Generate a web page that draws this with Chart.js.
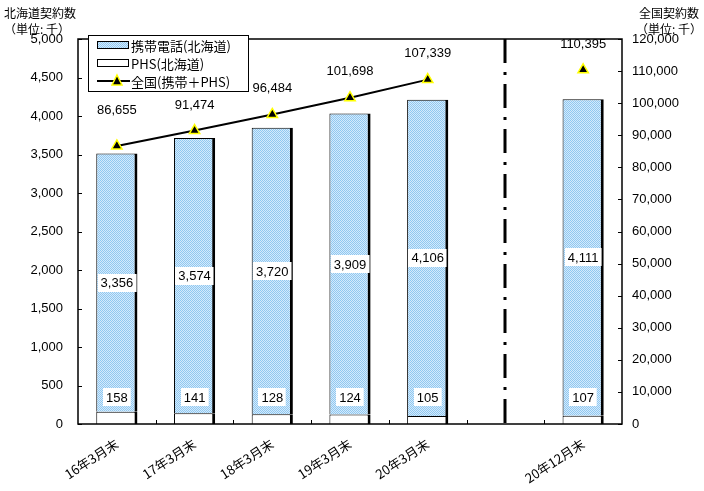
<!DOCTYPE html>
<html>
<head>
<meta charset="utf-8">
<script src="https://cdn.jsdelivr.net/npm/chart.js@4/dist/chart.umd.min.js"></script>
<style>
html,body{margin:0;padding:0;background:#fff;}
#wrap{width:704px;height:491px;position:relative;}
</style>
</head>
<body>
<div id="wrap"><canvas id="c" width="704" height="491"></canvas></div>
<script>
const categories = ['16年3月末','17年3月末','18年3月末','19年3月末','20年3月末','','20年12月末'];
const phsValues = [158,141,128,124,105,null,107];
const mobileValues = [3356,3574,3720,3909,4106,null,4111];
const nationalValues = [86655,91474,96484,101698,107339,null,110395];
const leftTicks = {min:0,max:5000,step:500};
const rightTicks = {min:0,max:120000,step:10000};
const seriesNames = ['携帯電話(北海道)','PHS(北海道)','全国(携帯＋PHS)'];
const leftTitle = ['北海道契約数','（単位: 千）'];
const rightTitle = ['全国契約数','（単位: 千）'];

const FONT = "'Liberation Sans','Noto Sans CJK JP',sans-serif";
const CJK = "'Noto Sans CJK JP','Liberation Sans',sans-serif";
const lineLabelOffsets = [36,25,26,26,26,0,25];

function makePattern(){
  const c=document.createElement('canvas'); c.width=2;c.height=2;
  const x=c.getContext('2d');
  x.fillStyle='#d4eafc'; x.fillRect(0,0,2,2);
  x.fillStyle='#90c8f0'; x.fillRect(0,0,1,1); x.fillRect(1,1,1,1);
  return x.createPattern(c,'repeat');
}
const bluePat = makePattern();
const fmt = v => v.toLocaleString('en-US');

const custom = {
  id:'custom',
  afterDatasetsDraw(chart){
    const ctx=chart.ctx, ca=chart.chartArea;
    const yL=chart.scales.y, yR=chart.scales.y1, xs=chart.scales.x;
    ctx.save();
    // frame
    ctx.strokeStyle='#000'; ctx.lineWidth=1.5;
    ctx.strokeRect(ca.left,ca.top,ca.right-ca.left,ca.bottom-ca.top);
    // ticks
    ctx.lineWidth=1;
    ctx.beginPath();
    for(let v=leftTicks.min; v<=leftTicks.max; v+=leftTicks.step){
      const y=Math.round(yL.getPixelForValue(v))+0.5;
      ctx.moveTo(ca.left,y); ctx.lineTo(ca.left+4,y);
    }
    for(let v=rightTicks.min; v<=rightTicks.max; v+=rightTicks.step){
      const y=Math.round(yR.getPixelForValue(v))+0.5;
      ctx.moveTo(ca.right,y); ctx.lineTo(ca.right-4,y);
    }
    for(let i=1;i<categories.length;i++){
      const x=Math.round((xs.getPixelForValue(i-1)+xs.getPixelForValue(i))/2)+0.5;
      ctx.moveTo(x,ca.bottom); ctx.lineTo(x,ca.bottom-4);
    }
    ctx.stroke();
    // dash-dot separator
    const sx=Math.round(xs.getPixelForValue(5));
    ctx.strokeStyle='#000'; ctx.lineWidth=3; ctx.setLineDash([24,9,3,9]);
    ctx.beginPath(); ctx.moveTo(sx,ca.top); ctx.lineTo(sx,ca.bottom); ctx.stroke();
    ctx.setLineDash([]);
    // bar labels
    ctx.font='13px '+FONT; ctx.textAlign='center'; ctx.textBaseline='middle';
    const mMeta=chart.getDatasetMeta(1), pMeta=chart.getDatasetMeta(0);
    const boxLabel=(txt,x,y)=>{
      const w=ctx.measureText(txt).width+6, h=18;
      ctx.fillStyle='#fff'; ctx.fillRect(Math.round(x-w/2),Math.round(y-h/2),w,h);
      ctx.fillStyle='#000'; ctx.fillText(txt,x,y+1);
    };
    mobileValues.forEach((v,i)=>{
      if(v==null) return;
      const el=mMeta.data[i];
      boxLabel(fmt(v),el.x,(el.y+el.base)/2);
    });
    phsValues.forEach((v,i)=>{
      if(v==null) return;
      const el=pMeta.data[i];
      boxLabel(fmt(v),el.x,yL.getPixelForValue(0)-27);
    });
    ctx.restore();
  },
  afterDraw(chart){
    const ctx=chart.ctx;
    const lMeta=chart.getDatasetMeta(2);
    ctx.save();
    ctx.font='13px '+FONT; ctx.textAlign='center'; ctx.textBaseline='middle'; ctx.fillStyle='#000';
    nationalValues.forEach((v,i)=>{
      if(v==null) return;
      const el=lMeta.data[i];
      ctx.fillText(fmt(v),el.x,el.y-lineLabelOffsets[i]);
    });
    // axis titles
    ctx.font='12px '+CJK;
    ctx.textAlign='left';
    ctx.fillText(leftTitle[0],4,13);
    ctx.fillText(leftTitle[1],4,29);
    ctx.textAlign='right';
    ctx.fillText(rightTitle[0],699,13);
    ctx.fillText(rightTitle[1],702,29);
    // legend
    const lx=88, ly=35, lw=160, lh=56;
    ctx.fillStyle='#fff'; ctx.fillRect(lx,ly,lw,lh);
    ctx.strokeStyle='#000'; ctx.lineWidth=1; ctx.strokeRect(lx+0.5,ly+0.5,lw,lh);
    const rows=[45,63,81];
    // row1
    ctx.fillStyle=bluePat; ctx.fillRect(97,rows[0]-3,32,7);
    ctx.strokeRect(97.5,rows[0]-3.5,31,7);
    // row2
    ctx.fillStyle='#fff'; ctx.fillRect(97,rows[1]-3,32,7);
    ctx.strokeRect(97.5,rows[1]-3.5,31,7);
    // row3
    ctx.lineWidth=2; ctx.beginPath(); ctx.moveTo(97,rows[2]); ctx.lineTo(130,rows[2]); ctx.stroke();
    ctx.beginPath(); ctx.moveTo(117,rows[2]-6); ctx.lineTo(122,rows[2]+4); ctx.lineTo(112,rows[2]+4); ctx.closePath();
    ctx.fillStyle='#000'; ctx.fill(); ctx.strokeStyle='#ffff00'; ctx.lineWidth=1.5; ctx.stroke();
    ctx.fillStyle='#000'; ctx.font='13px '+CJK; ctx.textAlign='left';
    seriesNames.forEach((n,i)=>ctx.fillText(n,131,rows[i]+1));
    ctx.restore();
  }
};

new Chart(document.getElementById('c'),{
  data:{
    labels:categories,
    datasets:[
      {type:'bar',label:seriesNames[1],data:phsValues,yAxisID:'y',stack:'s',order:1,
       backgroundColor:'#fff',borderColor:'#000',borderWidth:{left:1,top:1,right:3,bottom:0},borderSkipped:false,
       barPercentage:0.53,categoryPercentage:1},
      {type:'bar',label:seriesNames[0],data:mobileValues,yAxisID:'y',stack:'s',order:1,
       backgroundColor:bluePat,borderColor:'#000',borderWidth:{left:1,top:1,right:3,bottom:0},borderSkipped:false,
       barPercentage:0.53,categoryPercentage:1},
      {type:'line',label:seriesNames[2],data:nationalValues,yAxisID:'y1',order:0,
       borderColor:'#000',borderWidth:2,spanGaps:false,tension:0,
       pointStyle:'triangle',pointRadius:6,pointBackgroundColor:'#000',pointBorderColor:'#ffff00',pointBorderWidth:1.5}
    ]
  },
  options:{
    responsive:false,animation:false,devicePixelRatio:1,
    layout:{padding:{top:39,left:0,right:0,bottom:0}},
    plugins:{legend:{display:false},tooltip:{enabled:false}},
    scales:{
      x:{stacked:true,grid:{display:false,drawTicks:false},border:{display:false},
         ticks:{color:'#000',font:{size:13,family:CJK},minRotation:33,maxRotation:33,padding:12,autoSkip:false},
         afterFit:s=>{s.height=67;}},
      y:{position:'left',stacked:true,min:leftTicks.min,max:leftTicks.max,
         grid:{display:false,drawTicks:false},border:{display:false},
         ticks:{stepSize:leftTicks.step,color:'#000',font:{size:13,family:FONT},padding:15,callback:v=>fmt(v)},
         afterFit:s=>{s.width=78;}},
      y1:{position:'right',min:rightTicks.min,max:rightTicks.max,
         grid:{display:false,drawTicks:false},border:{display:false},
         ticks:{stepSize:rightTicks.step,color:'#000',font:{size:13,family:FONT},padding:10,callback:v=>fmt(v)},
         afterFit:s=>{s.width=82;}}
    }
  },
  plugins:[custom]
});
</script>
</body>
</html>
